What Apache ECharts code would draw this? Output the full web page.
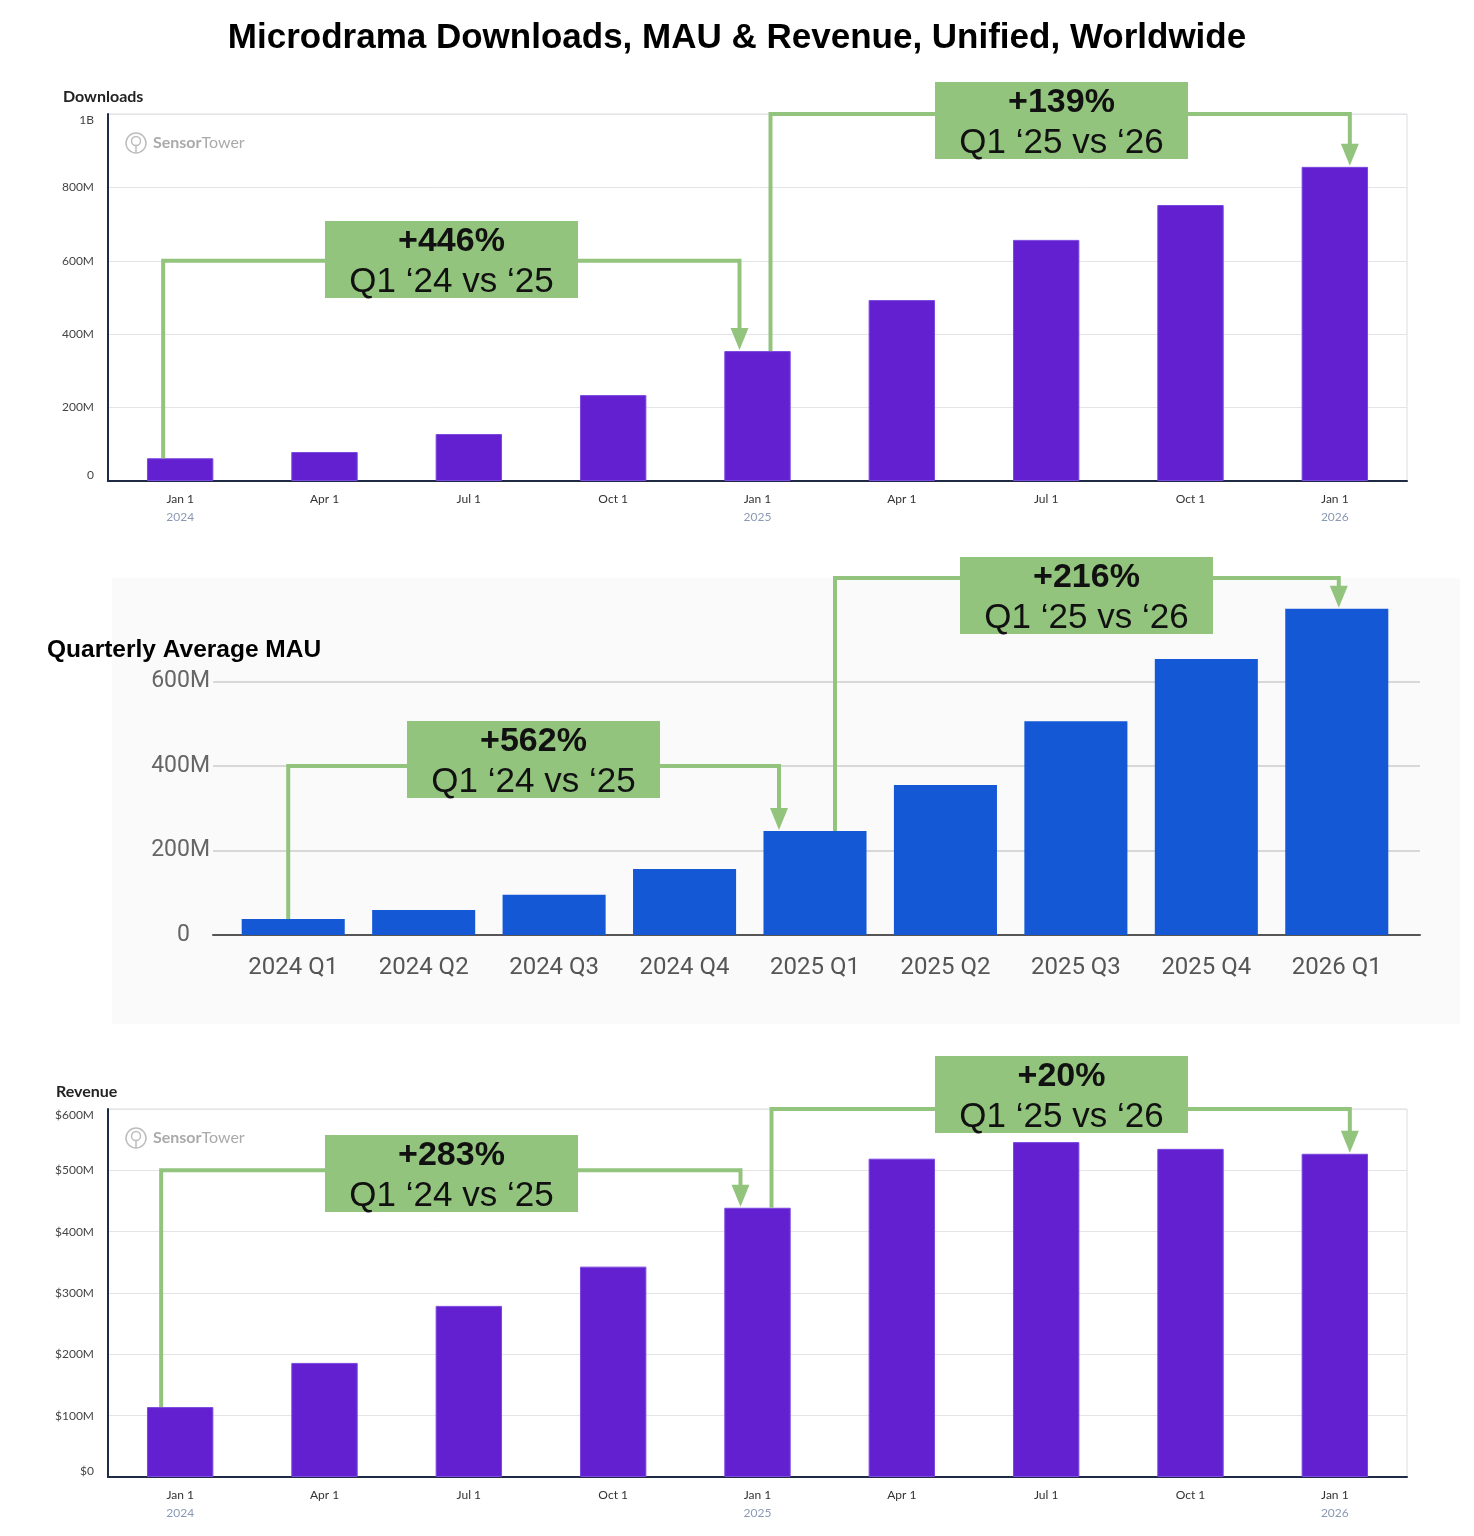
<!DOCTYPE html>
<html>
<head>
<meta charset="utf-8">
<script src="https://cdn.jsdelivr.net/npm/echarts@6/dist/echarts.min.js"></script>
<style>
  html, body { margin: 0; background: #fff; }
  #c { width: 1474px; height: 1536px; }
</style>
</head>
<body>
<div id="c"></div>
<script>
// ── data (millions) ─────────────────────────────────────────────
const quarterTicks = ['Jan 1', 'Apr 1', 'Jul 1', 'Oct 1', 'Jan 1', 'Apr 1', 'Jul 1', 'Oct 1', 'Jan 1']
const tickYears    = ['2024', '', '', '', '2025', '', '', '', '2026']
const downloadsM   = [62, 79, 128, 234, 354, 493, 657, 752, 856]

const mauQuarters  = ['2024 Q1', '2024 Q2', '2024 Q3', '2024 Q4', '2025 Q1', '2025 Q2', '2025 Q3', '2025 Q4', '2026 Q1']
const mauM         = [38, 59, 95, 156, 246, 355, 506, 653, 772]

const revenueM     = [114, 186, 279, 343, 439, 519, 546, 535, 527]

const GREEN  = '#93c47d'
const PURPLE = '#6320d0'
const BLUE   = '#1558d6'
const NAVY   = '#1f2a44'
const ST_FONT = 'Lato'

const chart = echarts.init(document.getElementById('c'), null, { renderer: 'canvas' })

function stXAxis(grid) {
  return {
    gridIndex: grid, type: 'category', data: quarterTicks,
    axisLine: { lineStyle: { color: NAVY, width: 2 } },
    axisTick: { show: false },
    axisLabel: {
      margin: 9,
      formatter: (v, i) => tickYears[i] ? `{a|${v}}\n{b|${tickYears[i]}}` : `{a|${v}}`,
      rich: {
        a: { fontFamily: ST_FONT, fontSize: 12, color: '#333', lineHeight: 18 },
        b: { fontFamily: ST_FONT, fontSize: 12, color: '#8a9ab5', lineHeight: 18 },
      },
    },
  }
}

function stYAxis(grid, max, interval, fmt) {
  return {
    gridIndex: grid, type: 'value', min: 0, max, interval,
    axisLine: { show: true, lineStyle: { color: NAVY, width: 2 } },
    axisTick: { show: false },
    axisLabel: {
      fontFamily: ST_FONT, fontSize: 12, color: '#444', margin: 14, formatter: fmt,
      verticalAlignMinLabel: 'bottom', verticalAlignMaxLabel: 'top',
    },
    splitLine: { lineStyle: { color: '#e4e4e4' } },
  }
}

function watermark(y) {
  return {
    type: 'group', x: 125, y: y, silent: true,
    children: [
      { type: 'circle', shape: { cx: 11, cy: 10, r: 10 }, style: { fill: 'none', stroke: '#bdbdbd', lineWidth: 1.5 } },
      { type: 'circle', shape: { cx: 11, cy: 8, r: 4.5 }, style: { fill: 'none', stroke: '#bdbdbd', lineWidth: 1.5 } },
      { type: 'line', shape: { x1: 11, y1: 12.5, x2: 11, y2: 20 }, style: { stroke: '#bdbdbd', lineWidth: 1.5 } },
      { type: 'text', x: 28, y: 10, style: {
          text: '{s|Sensor}{t|Tower}', verticalAlign: 'middle',
          rich: {
            s: { fontFamily: ST_FONT, fontSize: 16, fontWeight: 'bold', fill: '#aaaaaa' },
            t: { fontFamily: ST_FONT, fontSize: 16, fill: '#aaaaaa' },
          },
        } },
    ],
  }
}

chart.setOption({
  animation: false,
  backgroundColor: 'transparent',
  title: [
    { text: 'Microdrama Downloads, MAU & Revenue, Unified, Worldwide', left: 'center', top: 16,
      textStyle: { fontFamily: 'Liberation Sans', fontSize: 35, fontWeight: 'bold', color: '#000' } },
    { text: 'Downloads', left: 58, top: 84,
      textStyle: { fontFamily: ST_FONT, fontSize: 16, fontWeight: 'bold', color: '#222' } },
    { text: 'Quarterly Average MAU', left: 42, top: 633,
      textStyle: { fontFamily: 'Liberation Sans', fontSize: 24.5, fontWeight: 'bold', color: '#000' } },
    { text: 'Revenue', left: 51, top: 1079,
      textStyle: { fontFamily: ST_FONT, fontSize: 16, fontWeight: 'bold', color: '#222' } },
  ],
  grid: [
    { left: 108, width: 1299, top: 114, height: 367, show: true, borderColor: '#d8dce4', borderWidth: 1, backgroundColor: 'transparent' },
    { left: 213, width: 1207, top: 597, height: 338 },
    { left: 228, width: 1174, top: 597, height: 338 },
    { left: 108, width: 1299, top: 1109, height: 368, show: true, borderColor: '#d8dce4', borderWidth: 1, backgroundColor: 'transparent' },
  ],
  xAxis: [
    stXAxis(0),
    { gridIndex: 1, type: 'category', data: mauQuarters,
      axisLine: { lineStyle: { color: '#555', width: 2 } }, axisTick: { show: false }, axisLabel: { show: false } },
    { gridIndex: 2, type: 'category', data: mauQuarters,
      axisLine: { show: false }, axisTick: { show: false },
      axisLabel: { fontFamily: 'Roboto', fontSize: 24, color: '#555', margin: 21 } },
    stXAxis(3),
  ],
  yAxis: [
    stYAxis(0, 1000, 200, v => v === 1000 ? '1B' : v === 0 ? '0' : v + 'M'),
    { gridIndex: 1, type: 'value', min: 0, max: 800, interval: 200,
      axisLine: { show: false }, axisTick: { show: false },
      axisLabel: { fontFamily: 'Roboto', fontSize: 23, color: '#666', margin: 3,
        formatter: v => v === 800 ? '' : v === 0 ? '{z|0}' : v + 'M',
        rich: { z: { fontFamily: 'Roboto', fontSize: 23, color: '#666', padding: [0, 20, 0, 0] } } },
      splitLine: { lineStyle: { color: ['#cccccc', '#cccccc', '#cccccc', '#cccccc', 'rgba(0,0,0,0)'], width: 1.5 } } },
    { gridIndex: 2, type: 'value', min: 0, max: 800, show: false },
    stYAxis(3, 600, 100, v => v === 0 ? '$0' : '$' + v + 'M'),
  ],
  series: [
    { type: 'bar', xAxisIndex: 0, yAxisIndex: 0, data: downloadsM, barWidth: '46%',
      itemStyle: { color: PURPLE, borderColor: '#7b48e0', borderWidth: 1 } },
    { type: 'bar', xAxisIndex: 2, yAxisIndex: 2, data: mauM, barWidth: '79%',
      itemStyle: { color: BLUE } },
    { type: 'bar', xAxisIndex: 3, yAxisIndex: 3, data: revenueM, barWidth: '46%',
      itemStyle: { color: PURPLE, borderColor: '#7b48e0', borderWidth: 1 } },
  ],
})

// ── callouts: connector from one bar to another, plus a label box ──
const callouts = [
  { axis: 0, values: downloadsM, from: 0, to: 4, fromDx: -17, toDx: -18, level: 600,  box: [325, 221], big: '+446%', small: 'Q1 ‘24 vs ‘25' },
  { axis: 0, values: downloadsM, from: 4, to: 8, fromDx: 13,  toDx: 15,  level: 1000, box: [935, 82],  big: '+139%', small: 'Q1 ‘25 vs ‘26' },
  { axis: 2, values: mauM,       from: 0, to: 4, fromDx: -5,  toDx: -36, level: 400,  box: [407, 721], big: '+562%', small: 'Q1 ‘24 vs ‘25' },
  { axis: 2, values: mauM,       from: 4, to: 8, fromDx: 20,  toDx: 2,   level: 845,  box: [960, 557], big: '+216%', small: 'Q1 ‘25 vs ‘26' },
  { axis: 3, values: revenueM,   from: 0, to: 4, fromDx: -19, toDx: -17, level: 500,  box: [325, 1135], big: '+283%', small: 'Q1 ‘24 vs ‘25' },
  { axis: 3, values: revenueM,   from: 4, to: 8, fromDx: 14,  toDx: 15,  level: 600,  box: [935, 1056], big: '+20%',  small: 'Q1 ‘25 vs ‘26' },
]

const graphics = [
  { type: 'rect', z: -10, silent: true, shape: { x: 112, y: 578, width: 1348, height: 446 }, style: { fill: '#fafafa' } },
  watermark(133),
  watermark(1128),
]

const BOX_W = 253, BOX_H = 77, HEAD_W = 9, HEAD_H = 22
callouts.forEach(c => {
  const finder = { xAxisIndex: c.axis, yAxisIndex: c.axis }
  const a = chart.convertToPixel(finder, [c.from, c.values[c.from]])
  const b = chart.convertToPixel(finder, [c.to, c.values[c.to]])
  const lvl = chart.convertToPixel(finder, [c.from, c.level])[1]
  const x1 = a[0] + c.fromDx
  const x2 = b[0] + c.toDx
  const tip = b[1] - 1
  graphics.push(
    { type: 'polyline', z: 50, silent: true,
      shape: { points: [[x1, a[1]], [x1, lvl], [x2, lvl], [x2, tip - HEAD_H + 2]] },
      style: { stroke: GREEN, lineWidth: 4, fill: null } },
    { type: 'polygon', z: 50, silent: true,
      shape: { points: [[x2 - HEAD_W, tip - HEAD_H], [x2 + HEAD_W, tip - HEAD_H], [x2, tip]] },
      style: { fill: GREEN } },
    { type: 'rect', z: 51, silent: true,
      shape: { x: c.box[0], y: c.box[1], width: BOX_W, height: BOX_H }, style: { fill: GREEN } },
    { type: 'text', z: 52, silent: true, x: c.box[0] + BOX_W / 2, y: c.box[1] + 21,
      style: { text: c.big, align: 'center', verticalAlign: 'middle',
        font: 'bold 34px "Liberation Sans", Arial, sans-serif', fill: '#111' } },
    { type: 'text', z: 52, silent: true, x: c.box[0] + BOX_W / 2, y: c.box[1] + 61,
      style: { text: c.small, align: 'center', verticalAlign: 'middle',
        font: '35px "Liberation Sans", Arial, sans-serif', fill: '#111' } },
  )
})

chart.setOption({ graphic: graphics })
</script>
</body>
</html>
